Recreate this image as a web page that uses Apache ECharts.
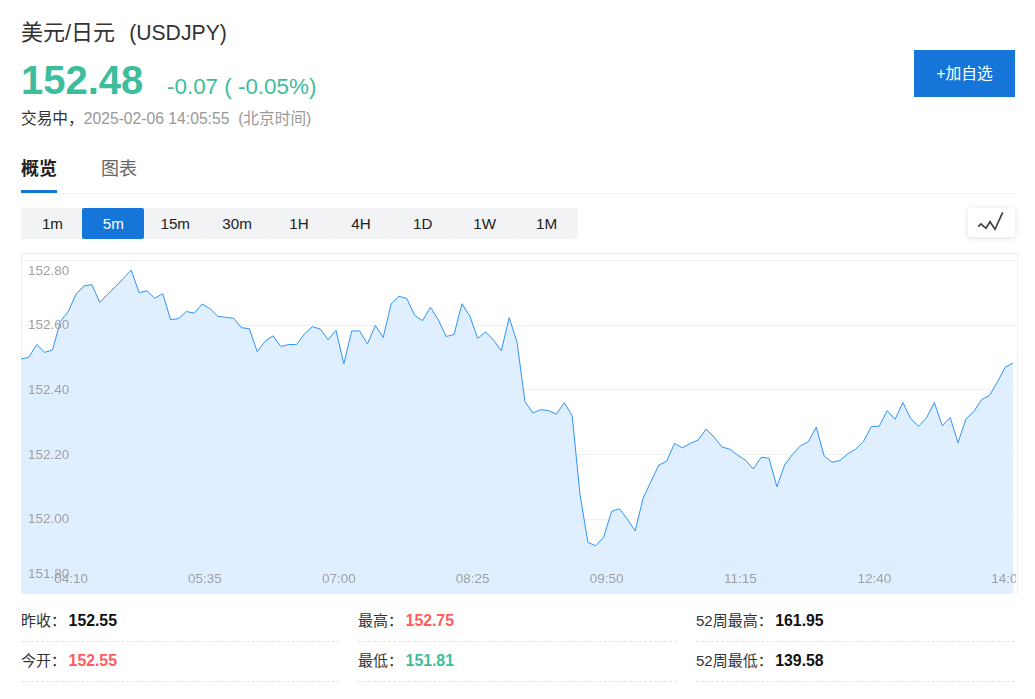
<!DOCTYPE html>
<html>
<head>
<meta charset="utf-8">
<title>USDJPY</title>
<script src="https://cdn.jsdelivr.net/npm/echarts@6/dist/echarts.min.js"></script>
<style>
  html, body { margin: 0; padding: 0; background: #fff; }
  body { width: 1035px; height: 699px; overflow: hidden; position: relative;
    font-family: "Liberation Sans", "Noto Sans CJK SC", sans-serif; color: #333; }
  .abs { position: absolute; white-space: nowrap; }
  .green { color: #3dbd9b; }
  .red { color: #ff5b5b; }
  .tf { position: absolute; left: 21px; top: 208px; width: 556px; height: 31px; display: flex; background: #f1f3f5; border-radius: 2px; }
  .tf div { flex: 1; padding-left: 1px; font-size: 15.2px; line-height: 31px; text-align: center; color: #222; box-shadow: 1px 0 0 #f6f7f8; }
  .tf div.on { background: #1675d9; color: #fff; border-radius: 2px; margin-left: -1px; box-shadow: none; }
  .stat { position: absolute; width: 319px; height: 41px; border-bottom: 1px dashed #e4e4e4; font-size: 15px; line-height: 42px; color: #333; white-space: nowrap; }
  .stat b { font-size: 15.8px; margin-left: 2.6px; }
  #frame { position: absolute; left: 21px; top: 253px; width: 995px; height: 340px; border: 1px solid #eee; border-bottom: 0; }
  #chart { position: absolute; left: 21px; top: 253px; width: 995px; height: 341px; }
</style>
</head>
<body>
<div class="abs" style="left:21px;top:18px;font-size:22px;line-height:29px">美元/日元<span style="font-size:21.2px;margin-left:14px">(USDJPY)</span></div>
<div class="abs green" style="left:21px;top:57px;font-size:40px;line-height:46px;font-weight:bold">152.48</div>
<div class="abs green" style="left:167px;top:73px;font-size:22.4px;line-height:28px">-0.07 ( -0.05%)</div>
<div class="abs" style="left:21px;top:108px;font-size:15.7px;line-height:21px"><span style="color:#333">交易中，</span><span style="color:#999">2025-02-06 14:05:55&nbsp; (北京时间)</span></div>
<div class="abs" style="left:914px;top:50px;width:101px;height:47px;background:#1675d9;color:#fff;font-size:15.8px;line-height:47px;text-align:center">+加自选</div>
<div class="abs" style="left:21px;top:157px;font-size:18px;line-height:24px;font-weight:bold;color:#222">概览</div>
<div class="abs" style="left:101px;top:157px;font-size:18px;line-height:24px;color:#666">图表</div>
<div class="abs" style="left:21px;top:193px;width:994px;height:1px;background:#f0f0f0"></div>
<div class="abs" style="left:21px;top:190px;width:36px;height:3px;background:#1675d9"></div>
<div class="tf"><div>1m</div><div class="on">5m</div><div>15m</div><div>30m</div><div>1H</div><div>4H</div><div>1D</div><div>1W</div><div>1M</div></div>
<div class="abs" style="left:968px;top:208px;width:47px;height:29px;background:#fff;border-radius:3px;box-shadow:0 1px 6px rgba(0,0,0,.13)">
  <svg width="47" height="29" style="display:block"><polyline points="10.3,18.7 13,16 18,20.3 22,13.7 27,21.3 34.7,4.3" fill="none" stroke="#444" stroke-width="1.7"/></svg>
</div>
<div id="frame"></div>
<div id="chart"></div>
<div class="stat" style="left:21px;top:600px">昨收：<b style="color:#111">152.55</b></div>
<div class="stat" style="left:358px;top:600px">最高：<b class="red">152.75</b></div>
<div class="stat" style="left:696px;top:600px">52周最高：<b style="color:#111">161.95</b></div>
<div class="stat" style="left:21px;top:640px">今开：<b class="red">152.55</b></div>
<div class="stat" style="left:358px;top:640px">最低：<b class="green">151.81</b></div>
<div class="stat" style="left:696px;top:640px">52周最低：<b style="color:#111">139.58</b></div>

<script>
const times = [
  '03:35','03:40','03:45','03:50','03:55','04:00','04:05','04:10','04:15','04:20','04:25','04:30',
  '04:35','04:40','04:45','04:50','04:55','05:00','05:05','05:10','05:15','05:20','05:25','05:30',
  '05:35','05:40','05:45','05:50','05:55','06:00','06:05','06:10','06:15','06:20','06:25','06:30',
  '06:35','06:40','06:45','06:50','06:55','07:00','07:05','07:10','07:15','07:20','07:25','07:30',
  '07:35','07:40','07:45','07:50','07:55','08:00','08:05','08:10','08:15','08:20','08:25','08:30',
  '08:35','08:40','08:45','08:50','08:55','09:00','09:05','09:10','09:15','09:20','09:25','09:30',
  '09:35','09:40','09:45','09:50','09:55','10:00','10:05','10:10','10:15','10:20','10:25','10:30',
  '10:35','10:40','10:45','10:50','10:55','11:00','11:05','11:10','11:15','11:20','11:25','11:30',
  '11:35','11:40','11:45','11:50','11:55','12:00','12:05','12:10','12:15','12:20','12:25','12:30',
  '12:35','12:40','12:45','12:50','12:55','13:00','13:05','13:10','13:15','13:20','13:25','13:30',
  '13:35','13:40','13:45','13:50','13:55','14:00','14:05'
]
const prices = [
  152.494,152.500,152.539,152.515,152.522,152.610,152.641,152.695,152.720,152.724,152.669,152.694,
  152.718,152.743,152.769,152.699,152.705,152.682,152.696,152.616,152.619,152.641,152.636,152.664,
  152.650,152.626,152.623,152.620,152.591,152.588,152.517,152.549,152.566,152.533,152.539,152.539,
  152.572,152.594,152.587,152.554,152.583,152.479,152.581,152.581,152.541,152.598,152.561,152.664,
  152.688,152.681,152.629,152.613,152.654,152.615,152.564,152.570,152.665,152.627,152.558,152.578,
  152.553,152.520,152.622,152.546,152.363,152.328,152.338,152.335,152.324,152.360,152.319,152.075,
  151.928,151.918,151.945,152.024,152.032,152.000,151.964,152.064,152.116,152.167,152.179,152.234,
  152.220,152.234,152.244,152.278,152.254,152.223,152.216,152.198,152.182,152.155,152.191,152.188,
  152.100,152.168,152.200,152.227,152.239,152.284,152.195,152.176,152.181,152.202,152.216,152.240,
  152.286,152.287,152.335,152.308,152.360,152.310,152.287,152.313,152.360,152.288,152.314,152.236,
  152.309,152.332,152.369,152.382,152.423,152.469,152.482
]
const yTicks = [151.8, 152.0, 152.2, 152.4, 152.6, 152.8]
const yMin = 151.769
const yMax = 152.8

const labelColor = '#a0a0a0'
const labelFont = 13.5

const myChart = echarts.init(document.getElementById('chart'))
myChart.setOption({
  animation: false,
  // wider than the canvas, the last label gets cut off like on the site
  grid: { left: 0, top: 7, width: 1000, height: 334, containLabel: false, outerBoundsMode: 'none' },
  xAxis: {
    type: 'category',
    boundaryGap: false,
    data: times.concat(['']), // empty slot, leaves the gap after the last point
    axisLine: { show: false },
    axisTick: { show: false },
    splitLine: { show: false },
    z: 10,
    axisLabel: {
      inside: true,
      margin: 8,
      color: labelColor,
      fontSize: labelFont,
      padding: [0, 10, 0, 0],
      hideOverlap: false,
      interval: i => i >= 7 && (i - 7) % 17 === 0
    }
  },
  yAxis: [
    {
      // grid lines only, sit under the area
      type: 'value',
      min: yMin,
      max: yMax,
      axisLine: { show: false },
      axisLabel: { show: false },
      axisTick: { show: false, customValues: yTicks },
      splitLine: { show: true, lineStyle: { color: '#f1f1f1', width: 1 } }
    },
    {
      // labels only, drawn over the area
      type: 'value',
      min: yMin,
      max: yMax,
      position: 'left',
      z: 10,
      axisLine: { show: false },
      axisTick: { show: false, customValues: yTicks },
      splitLine: { show: false },
      axisLabel: {
        inside: true,
        margin: 7,
        customValues: yTicks,
        formatter: v => {
          const s = v.toFixed(2)
          if (s === '152.80') return `{top|${s}}`
          if (s === '151.80') return `{bot|${s}}`
          return `{mid|${s}}`
        },
        rich: {
          top: { color: labelColor, fontSize: labelFont, padding: [23, 0, 0, 0] },
          mid: { color: labelColor, fontSize: labelFont, padding: [1, 0, 0, 0] },
          bot: { color: labelColor, fontSize: labelFont, padding: [0, 0, 20, 0] }
        }
      }
    }
  ],
  series: [{
    type: 'line',
    data: prices,
    showSymbol: false,
    symbol: 'none',
    smooth: false,
    lineStyle: { color: '#2f93f7', width: 1 },
    areaStyle: { color: '#e0efff', opacity: 1 }
  }]
})
</script>
</body>
</html>
